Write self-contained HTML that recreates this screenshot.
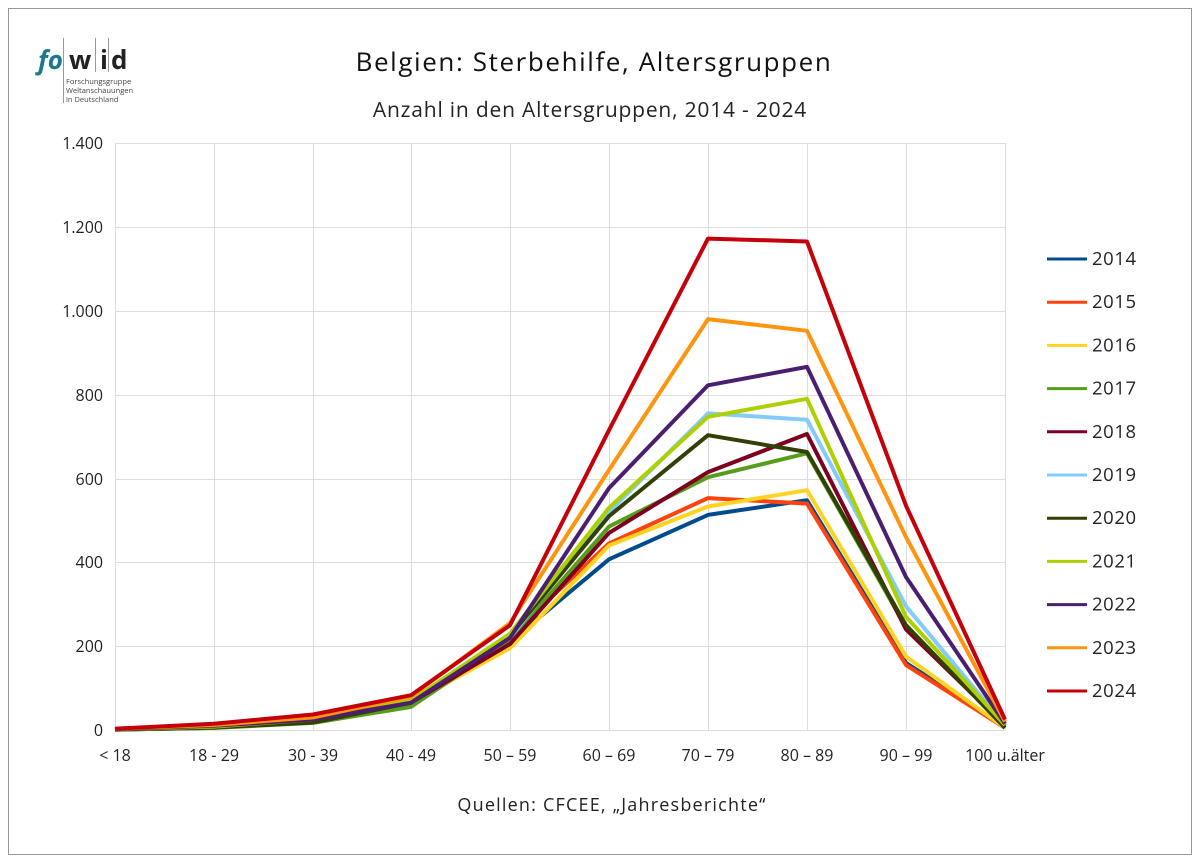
<!DOCTYPE html>
<html><head><meta charset="utf-8"><style>
body{margin:0;background:#fff;}
svg{display:block;font-family:"Open Sans","Liberation Sans","DejaVu Sans",sans-serif;}
</style></head><body>
<svg width="1200" height="861" viewBox="0 0 1200 861">
<rect x="8.5" y="8.5" width="1183" height="846" fill="#fff" stroke="#999" stroke-width="1"/>
<text x="38" y="69" font-size="26" fill="#1a7a8c" font-style="italic" font-weight="bold">fo</text>
<text x="69" y="69" font-size="26" fill="#222" font-weight="bold">w</text>
<text x="100" y="69" font-size="26" fill="#222" font-weight="bold">i</text>
<text x="111" y="69" font-size="26" fill="#222" font-weight="bold">d</text>
<g stroke="#999" stroke-width="1"><line x1="63.5" y1="38" x2="63.5" y2="103"/><line x1="95.5" y1="38" x2="95.5" y2="72"/><line x1="108.5" y1="38" x2="108.5" y2="72"/></g>
<g font-size="7.5" fill="#444"><text x="66" y="84">Forschungsgruppe</text><text x="66" y="93">Weltanschauungen</text><text x="66" y="102">in Deutschland</text></g>
<text x="594" y="71" font-size="26" letter-spacing="1.6" text-anchor="middle" fill="#111">Belgien: Sterbehilfe, Altersgruppen</text>
<text x="590" y="117" font-size="21" letter-spacing="0.8" text-anchor="middle" fill="#222">Anzahl in den Altersgruppen, 2014 - 2024</text>
<text x="612" y="811" font-size="18" letter-spacing="1.2" text-anchor="middle" fill="#222">Quellen: CFCEE, „Jahresberichte“</text>
<g stroke="#ddd" stroke-width="1">
<line x1="115" y1="143.5" x2="1005" y2="143.5"/><line x1="115" y1="227.5" x2="1005" y2="227.5"/><line x1="115" y1="311.5" x2="1005" y2="311.5"/><line x1="115" y1="395.5" x2="1005" y2="395.5"/><line x1="115" y1="479.5" x2="1005" y2="479.5"/><line x1="115" y1="562.5" x2="1005" y2="562.5"/><line x1="115" y1="646.5" x2="1005" y2="646.5"/><line x1="115" y1="730.5" x2="1005" y2="730.5"/>
<line x1="115.5" y1="143" x2="115.5" y2="730"/><line x1="214.5" y1="143" x2="214.5" y2="730"/><line x1="313.5" y1="143" x2="313.5" y2="730"/><line x1="411.5" y1="143" x2="411.5" y2="730"/><line x1="510.5" y1="143" x2="510.5" y2="730"/><line x1="609.5" y1="143" x2="609.5" y2="730"/><line x1="708.5" y1="143" x2="708.5" y2="730"/><line x1="807.5" y1="143" x2="807.5" y2="730"/><line x1="906.5" y1="143" x2="906.5" y2="730"/><line x1="1005.5" y1="143" x2="1005.5" y2="730"/>
</g>
<g font-size="16" fill="#222" text-anchor="end">
<text x="103" y="149">1.400</text><text x="103" y="233">1.200</text><text x="103" y="317">1.000</text><text x="103" y="401">800</text><text x="103" y="485">600</text><text x="103" y="568">400</text><text x="103" y="652">200</text><text x="103" y="736">0</text>
</g>
<g font-size="16" fill="#222" text-anchor="middle">
<text x="115" y="761">&lt; 18</text><text x="214" y="761">18 - 29</text><text x="313" y="761">30 - 39</text><text x="411" y="761">40 - 49</text><text x="510" y="761">50 – 59</text><text x="609" y="761">60 – 69</text><text x="708" y="761">70 – 79</text><text x="807" y="761">80 – 89</text><text x="906" y="761">90 – 99</text><text x="1005" y="761">100 u.älter</text>
</g>
<g fill="none" stroke-width="4" stroke-linejoin="round" id="lines"></g>
<g id="legend" font-size="18.5" letter-spacing="0.6" fill="#222"></g>
<script>
var xs=[115,214,313,411,510,609,708,807,906,1005];
var S=[
["2014","#004b8d",[1,5,20,60,210,407,513,548,160,8]],
["2015","#ff420e",[2,8,25,70,225,445,553,540,155,5]],
["2016","#ffd320",[1,6,22,65,195,440,533,572,175,5]],
["2017","#579d1c",[1,5,17,55,215,485,603,660,245,8]],
["2018","#7e0021",[1,7,20,65,205,470,615,706,240,10]],
["2019","#83caff",[1,8,25,70,220,520,755,740,295,12]],
["2020","#314004",[1,6,18,65,225,510,703,663,250,5]],
["2021","#aecf00",[2,8,25,70,230,530,747,790,270,12]],
["2022","#4b1f6f",[2,10,25,65,220,577,822,866,365,15]],
["2023","#ff950e",[3,12,30,80,255,620,980,952,460,20]],
["2024","#c5000b",[3,15,37,83,250,715,1172,1165,535,25]]];
var ns="http://www.w3.org/2000/svg",g=document.getElementById("lines"),lg=document.getElementById("legend");
S.forEach(function(s,i){
 var p=document.createElementNS(ns,"polyline");
 p.setAttribute("points",s[2].map(function(v,j){return xs[j]+","+(730-v*0.4193).toFixed(1)}).join(" "));
 p.setAttribute("stroke",s[1]);g.appendChild(p);
 var y=259+i*43.2;
 var l=document.createElementNS(ns,"line");
 l.setAttribute("x1",1047);l.setAttribute("x2",1087);l.setAttribute("y1",y);l.setAttribute("y2",y);
 l.setAttribute("stroke",s[1]);l.setAttribute("stroke-width",3);lg.appendChild(l);
 var t=document.createElementNS(ns,"text");t.setAttribute("x",1092);t.setAttribute("y",y+6);t.textContent=s[0];lg.appendChild(t);
});
</script>
</svg>
</body></html>
